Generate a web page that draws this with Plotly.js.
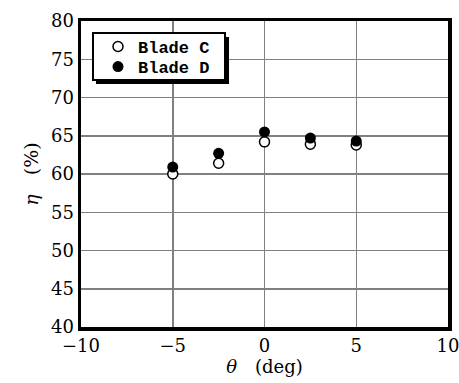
<!DOCTYPE html>
<html><head><meta charset="utf-8">
<script src="https://cdn.plot.ly/plotly-3.0.1.min.js"></script>
<style>html,body{margin:0;padding:0;background:#fff}#chart{width:459px;height:383px}</style>
</head><body><div id="chart"></div>
<script>
const theta = [-5, -2.5, 0, 2.5, 5];
const bladeC = [60.0, 61.4, 64.2, 63.9, 63.8];
const bladeD = [60.9, 62.7, 65.5, 64.7, 64.3];
const xTicks = [-10, -5, 0, 5, 10];
const yTicks = [40, 45, 50, 55, 60, 65, 70, 75, 80];
const serif = '"DejaVu Serif", "Liberation Serif", serif';
const tickFont = {family: serif, size: 18, color: '#000'};

const traces = [
  {x: theta, y: bladeC, name: 'Blade C', mode: 'markers', type: 'scatter', legend: 'legend',
   marker: {symbol: 'circle', size: 10, color: '#fff', line: {color: '#000', width: 1.5}}},
  {x: theta, y: bladeD, name: 'Blade D', mode: 'markers', type: 'scatter', legend: 'legend2',
   marker: {symbol: 'circle', size: 11, color: '#000', line: {color: '#000', width: 0}}}
];

// plot area in px: x 81..448, y 21..327
const px = v => (v - 81) / 367;
const py = v => (327 - v) / 306;
const legFont = {family: '"Liberation Mono", "DejaVu Sans Mono", monospace', size: 17, color: '#000', weight: 'bold'};
const legBase = {xanchor: 'left', yanchor: 'middle', bgcolor: 'rgba(0,0,0,0)', borderwidth: 0, font: legFont, itemwidth: 30};

const layout = {
  width: 459, height: 383,
  margin: {l: 81, r: 11, t: 21, b: 56},
  paper_bgcolor: '#fff', plot_bgcolor: '#fff',
  showlegend: true,
  legend: Object.assign({x: px(98), y: py(47)}, legBase),
  legend2: Object.assign({x: px(98), y: py(67)}, legBase),
  xaxis: {range: [-10, 10], tickvals: xTicks, ticktext: xTicks.map(v => v < 0 ? '\u2212' + Math.abs(v) : String(v)),
    showgrid: true, gridcolor: '#808080', gridwidth: 1.5, zeroline: false,
    showline: true, linecolor: '#000', linewidth: 3.5, mirror: true, ticks: '',
    tickfont: tickFont, ticklabeloverflow: 'allow',
    title: {text: '<i>θ</i>\u2003(deg)', font: {family: serif, size: 18, color: '#000'}, standoff: 4}},
  yaxis: {range: [40, 80], tickvals: yTicks,
    showgrid: true, gridcolor: '#808080', gridwidth: 1.5, zeroline: false,
    showline: true, linecolor: '#000', linewidth: 3.5, mirror: true, ticks: '',
    tickfont: tickFont, ticklabeloverflow: 'allow',
    title: {text: '<i>η</i>\u2003(%)', font: {family: serif, size: 19, color: '#000'}, standoff: 8}},
  shapes: [
    {type: 'rect', xref: 'paper', yref: 'paper', x0: px(96), x1: px(229), y0: py(84), y1: py(37),
     fillcolor: '#000', line: {width: 0}, layer: 'above'},
    {type: 'rect', xref: 'paper', yref: 'paper', x0: px(93), x1: px(225), y0: py(80), y1: py(33),
     fillcolor: '#fff', line: {color: '#000', width: 2}, layer: 'above'}
  ]
};
Plotly.newPlot('chart', traces, layout, {staticPlot: true});
</script></body></html>
